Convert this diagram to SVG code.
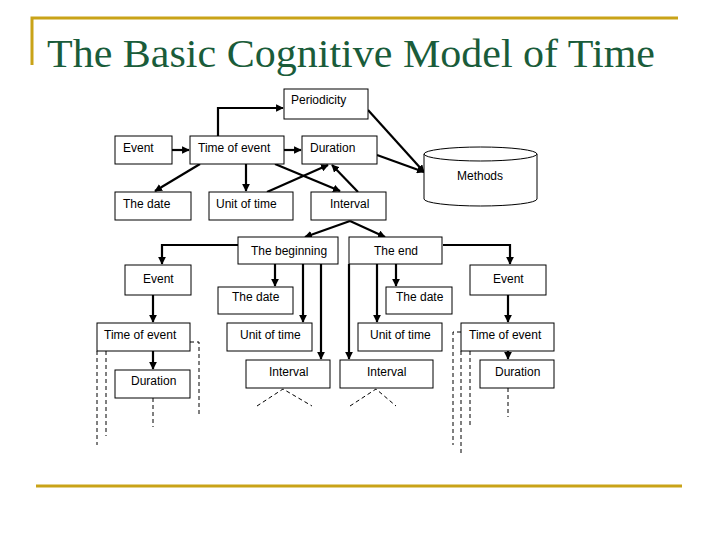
<svg xmlns="http://www.w3.org/2000/svg" width="720" height="540" viewBox="0 0 720 540">
<defs>
<marker id="a" viewBox="0 0 10 10" refX="9" refY="5" markerWidth="3.5" markerHeight="3.5" orient="auto"><path d="M0,0L10,5L0,10z" fill="#000"/></marker>
<style>
.b{fill:#fff;stroke:#000;stroke-width:1}
.t{font-family:"Liberation Sans",Arial,sans-serif;font-size:12px;fill:#000}
.c{fill:none;stroke:#000;stroke-width:2.2;marker-end:url(#a)}
.l{fill:none;stroke:#000;stroke-width:2.2}
.d{fill:none;stroke:#000;stroke-width:1;stroke-dasharray:4,3}
</style>
</defs>
<rect width="720" height="540" fill="#fff"/>
<path d="M32,65V18H678" fill="none" stroke="#c9a318" stroke-width="3"/>
<path d="M36,486H682" fill="none" stroke="#c9a318" stroke-width="3"/>
<text x="47" y="67" font-family="Liberation Serif,serif" font-size="41" textLength="608" lengthAdjust="spacingAndGlyphs" fill="#1a5c3a">The Basic Cognitive Model of Time</text>
<g id="connectors">
<path class="c" d="M172,150H189"/>
<path class="c" d="M284,150H301"/>
<path class="c" d="M218,136V108H283"/>
<path class="c" d="M368,110L424,172"/>
<path class="c" d="M377,155L424,172"/>
<path class="c" d="M200,164L155,191"/>
<path class="c" d="M246,164V191"/>
<path class="c" d="M275,164L340,191"/>
<path class="c" d="M267,192L328,165"/>
<path class="c" d="M358,192L332,165"/>
<path class="c" d="M350,221L305,237"/>
<path class="c" d="M350,221L385,237"/>
<path class="c" d="M238,245H162V264"/>
<path class="c" d="M443,245H510V264"/>
<path class="c" d="M275,264V286"/>
<path class="c" d="M303,264V322"/>
<path class="c" d="M321,264V359"/>
<path class="c" d="M349,264V359"/>
<path class="c" d="M377,264V322"/>
<path class="c" d="M396,264V286"/>
<path class="c" d="M153,295V322"/>
<path class="c" d="M153,351V369"/>
<path class="c" d="M508,295V322"/>
<path class="c" d="M508,351V359"/>
<path class="d" d="M97,351V445M106,351V436M190,342H199V417M153,398V427"/>
<path class="d" d="M461,332H453V445M461,351V453M470,351V425M508,388V417"/>
<path class="d" d="M257,406L283,389L312,406M350,406L376,389L396,406"/>
</g>
<g id="periodicity"><rect class="b" x="284" y="89" width="84" height="30"/><text class="t" x="291" y="104">Periodicity</text></g>
<g id="event"><rect class="b" x="115" y="136" width="57" height="28"/><text class="t" x="123" y="152">Event</text></g>
<g id="timeofevent"><rect class="b" x="190" y="136" width="94" height="28"/><text class="t" x="198" y="152">Time of event</text></g>
<g id="duration"><rect class="b" x="302" y="136" width="75" height="28"/><text class="t" x="310" y="152">Duration</text></g>
<g id="methods"><path class="b" d="M424,154V199A56.5,7 0 0 0 537,199V154"/><ellipse class="b" cx="480.5" cy="154" rx="56.5" ry="7"/><text class="t" x="457" y="180">Methods</text></g>
<g id="thedate"><rect class="b" x="115" y="192" width="76" height="28"/><text class="t" x="123" y="208">The date</text></g>
<g id="unitoftime"><rect class="b" x="209" y="192" width="84" height="28"/><text class="t" x="216" y="208">Unit of time</text></g>
<g id="interval"><rect class="b" x="311" y="192" width="75" height="28"/><text class="t" x="330" y="208">Interval</text></g>
<g id="beginning"><rect class="b" x="238" y="237" width="100" height="27"/><text class="t" x="251" y="255">The beginning</text></g>
<g id="end"><rect class="b" x="349" y="237" width="93" height="27"/><text class="t" x="374" y="255">The end</text></g>
<g id="event2"><rect class="b" x="125" y="265" width="66" height="30"/><text class="t" x="143" y="283">Event</text></g>
<g id="event3"><rect class="b" x="470" y="265" width="76" height="30"/><text class="t" x="493" y="283">Event</text></g>
<g id="date2"><rect class="b" x="218" y="287" width="75" height="27"/><text class="t" x="232" y="301">The date</text></g>
<g id="date3"><rect class="b" x="386" y="287" width="66" height="27"/><text class="t" x="396" y="301">The date</text></g>
<g id="toe2"><rect class="b" x="97" y="323" width="93" height="28"/><text class="t" x="104" y="339">Time of event</text></g>
<g id="unit2"><rect class="b" x="227" y="323" width="85" height="28"/><text class="t" x="240" y="339">Unit of time</text></g>
<g id="unit3"><rect class="b" x="358" y="323" width="84" height="28"/><text class="t" x="370" y="339">Unit of time</text></g>
<g id="toe3"><rect class="b" x="461" y="323" width="93" height="28"/><text class="t" x="469" y="339">Time of event</text></g>
<g id="duration2"><rect class="b" x="115" y="370" width="75" height="28"/><text class="t" x="131" y="385">Duration</text></g>
<g id="interval2"><rect class="b" x="246" y="360" width="84" height="28"/><text class="t" x="269" y="376">Interval</text></g>
<g id="interval3"><rect class="b" x="340" y="360" width="93" height="28"/><text class="t" x="367" y="376">Interval</text></g>
<g id="duration3"><rect class="b" x="480" y="360" width="74" height="28"/><text class="t" x="495" y="376">Duration</text></g>
</svg>
